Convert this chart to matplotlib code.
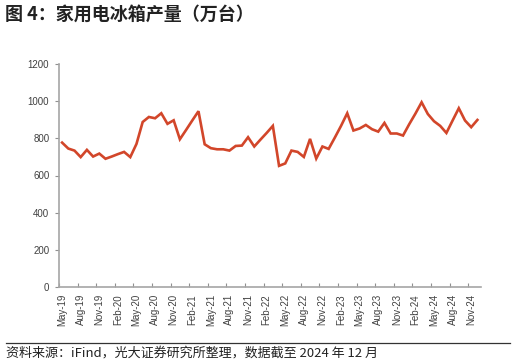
import matplotlib
matplotlib.use('Agg')
import matplotlib.pyplot as plt
import numpy as np

# monthly output, May-19 .. Dec-24 (10k units)
months = ['May-19', 'Jun-19', 'Jul-19', 'Aug-19', 'Sep-19', 'Oct-19', 'Nov-19', 'Dec-19',
          'Jan-20', 'Feb-20', 'Mar-20', 'Apr-20', 'May-20', 'Jun-20', 'Jul-20', 'Aug-20',
          'Sep-20', 'Oct-20', 'Nov-20', 'Dec-20', 'Jan-21', 'Feb-21', 'Mar-21', 'Apr-21',
          'May-21', 'Jun-21', 'Jul-21', 'Aug-21', 'Sep-21', 'Oct-21', 'Nov-21', 'Dec-21',
          'Jan-22', 'Feb-22', 'Mar-22', 'Apr-22', 'May-22', 'Jun-22', 'Jul-22', 'Aug-22',
          'Sep-22', 'Oct-22', 'Nov-22', 'Dec-22', 'Jan-23', 'Feb-23', 'Mar-23', 'Apr-23',
          'May-23', 'Jun-23', 'Jul-23', 'Aug-23', 'Sep-23', 'Oct-23', 'Nov-23', 'Dec-23',
          'Jan-24', 'Feb-24', 'Mar-24', 'Apr-24', 'May-24', 'Jun-24', 'Jul-24', 'Aug-24',
          'Sep-24', 'Oct-24', 'Nov-24', 'Dec-24']
output = [777, 745, 734, 699, 738, 702, 718, 690,
          702, 715, 727, 699, 770, 888, 915, 908,
          935, 878, 897, 795, 845, 896, 946, 768,
          747, 741, 741, 734, 759, 761, 806, 756,
          793, 829, 867, 652, 665, 734, 727, 700,
          797, 691, 756, 743, 804, 867, 935, 842,
          853, 872, 849, 836, 883, 826, 826, 815,
          876, 933, 994, 931, 892, 867, 829, 896,
          962, 896, 860, 899]
yticks = [0, 200, 400, 600, 800, 1000, 1200]

title = '图 4：家用电冰箱产量（万台）'
source = '资料来源：iFind，光大证券研究所整理，数据截至 2024 年 12 月'

plt.rcParams['font.family'] = ['Liberation Sans', 'Noto Sans CJK SC']

fig = plt.figure(figsize=(5.16, 3.64), dpi=100)
ax = fig.add_axes([59 / 516, 1 - 287 / 364, (480.5 - 59) / 516, (287 - 64) / 364])

x = np.arange(len(months))
ax.plot(x, output, color='#D2462A', lw=1.9, solid_joinstyle='miter')

ax.set_xlim(-0.5, len(months) - 0.5)
ax.set_ylim(0, 1200)
ax.set_yticks(yticks)
ax.set_yticklabels([str(v) for v in yticks])

ax.set_xticks(x[::3])
ax.set_xticklabels(months[::3], rotation=90)
ax.set_xticks(np.arange(-0.5, len(months) - 1, 3), minor=True)
ax.tick_params(axis='x', which='major', length=0, pad=5)
ax.tick_params(axis='x', which='minor', direction='in', length=3,
               color='#909090', width=0.8)
ax.tick_params(axis='y', length=3, color='#909090', width=0.8, pad=4)
ax.tick_params(labelsize=7, labelcolor='#404040')

for s in ['top', 'right']:
    ax.spines[s].set_visible(False)
for s in ['left', 'bottom']:
    ax.spines[s].set_color('#a6a6a6')
    ax.spines[s].set_linewidth(1.2)

fig.text(5 / 516, 1 - 14 / 364, title, fontsize=13, fontweight='bold',
         family=['Noto Sans CJK SC'], va='center', ha='left', color='#222222')
fig.add_artist(plt.Line2D([6 / 516, 510 / 516], [1 - 342.5 / 364] * 2,
                          color='#333333', lw=0.9))
fig.text(6 / 516, 1 - 353 / 364, source, fontsize=9.4,
         family=['Noto Sans CJK SC'], va='center', ha='left', color='#222222')

fig.savefig('out.png', dpi=100)
